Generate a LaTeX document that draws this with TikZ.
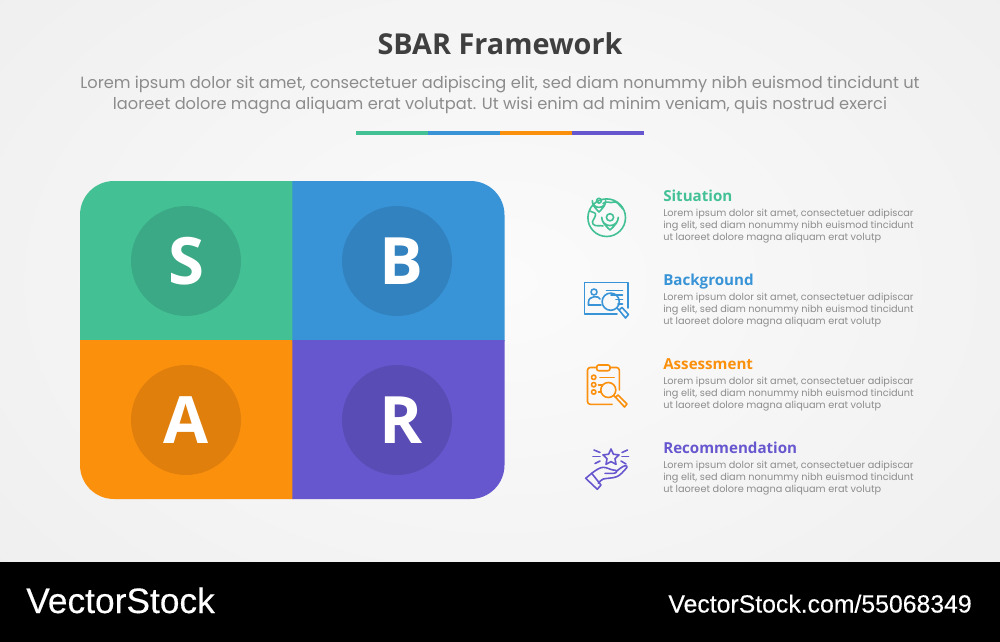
\documentclass[tikz,border=0pt]{standalone}
\usepackage{fontspec}
\setmainfont{Open Sans}
\newfontfamily\popfont{Poppins}
\newfontfamily\brandfont[FakeBold=0.3]{Liberation Sans}
\newcommand{\pxfont}[2]{\fontsize{#1}{#2}\selectfont}
\definecolor{cgreen}{HTML}{43C195}
\definecolor{cblue}{HTML}{3894D7}
\definecolor{corange}{HTML}{FB900D}
\definecolor{cpurple}{HTML}{6757CF}
\definecolor{dgreen}{HTML}{3BA985}
\definecolor{dblue}{HTML}{3182BE}
\definecolor{dorange}{HTML}{E07F0B}
\definecolor{dpurple}{HTML}{5A4CB5}
\definecolor{ctitle}{HTML}{3F3F3F}
\definecolor{cbody}{HTML}{8C8C8C}
\definecolor{cbg}{HTML}{FAFAFA}
\tikzset{
  lettercirc/.style={circle,minimum size=82.5pt,inner sep=0pt,text=white,font=\bfseries\pxfont{49}{49}},
  headlabel/.style={anchor=base west,inner sep=0pt,font=\bfseries\pxfont{11.35}{13}},
  bodytext/.style={anchor=base west,inner sep=0pt,align=left,text=cbody,font=\popfont\pxfont{7.3}{9.1}},
  subtext/.style={anchor=base,inner sep=0pt,text=cbody,font=\popfont\pxfont{12.18}{15}},
  iconline/.style={line width=1.2pt,line cap=round,line join=round},
}
\begin{document}
\begin{tikzpicture}[x=0.75pt,y=-0.75pt]
\useasboundingbox (0,0) rectangle (1000,642);
% background
\begin{scope}
\clip (0,0) rectangle (1000,562);
\shade[inner color=black!1.5,outer color=black!6.5] (-200,-200) rectangle (1200,762);
\end{scope}
\fill[black] (0,562) rectangle (1000,642);
% heading
\node[anchor=base,inner sep=0pt,text=ctitle,font=\bfseries\pxfont{21.6}{26}] (title) at (500,55) {SBAR Framework};
\node[subtext] (sub1) at (500,89) {Lorem ipsum dolor sit amet, consectetuer adipiscing elit, sed diam nonummy nibh euismod tincidunt ut};
\node[subtext] (sub2) at (500,109) {laoreet dolore magna aliquam erat volutpat. Ut wisi enim ad minim veniam, quis nostrud exerci};
% divider
\fill[cgreen] (356,131) rectangle (428,135);
\fill[cblue] (428,131) rectangle (500,135);
\fill[corange] (500,131) rectangle (572,135);
\fill[cpurple] (572,131) rectangle (644,135);
% block
\fill[cgreen] (293.5,341) -- (80,341) -- (80,215) .. controls (80,196.2) and (95.2,181) .. (114,181) -- (293.5,181) -- cycle;
\fill[corange] (293.5,340) -- (80,340) -- (80,465) .. controls (80,483.8) and (95.2,499) .. (114,499) -- (293.5,499) -- cycle;
\fill[cblue] (292.25,341) -- (292.25,181) -- (470.5,181) .. controls (489.3,181) and (504.5,196.2) .. (504.5,215) -- (504.5,341) -- cycle;
\fill[cpurple] (292.25,340) -- (292.25,499) -- (470.5,499) .. controls (489.3,499) and (504.5,483.8) .. (504.5,465) -- (504.5,340) -- cycle;
\node[lettercirc,fill=dgreen] (s) at (186,261) {S};
\node[lettercirc,fill=dblue] (b) at (397,261) {\hspace*{6pt}B};
\node[lettercirc,fill=dorange] (a) at (186,420) {A};
\node[lettercirc,fill=dpurple] (r) at (397,420) {\hspace*{6pt}R};
% labels
\node[headlabel,text=cgreen] (h1) at (663,201) {Situation};
\node[bodytext] (t1) at (663,240.6) {Lorem ipsum dolor sit amet, consectetuer adipiscar\\ing elit, sed diam nonummy nibh euismod tincidunt\\ut laoreet dolore magna aliquam erat volutp};
\node[headlabel,text=cblue] (h2) at (663,285) {Background};
\node[bodytext] (t2) at (663,324.6) {Lorem ipsum dolor sit amet, consectetuer adipiscar\\ing elit, sed diam nonummy nibh euismod tincidunt\\ut laoreet dolore magna aliquam erat volutp};
\node[headlabel,text=corange] (h3) at (663,369) {Assessment};
\node[bodytext] (t3) at (663,408.6) {Lorem ipsum dolor sit amet, consectetuer adipiscar\\ing elit, sed diam nonummy nibh euismod tincidunt\\ut laoreet dolore magna aliquam erat volutp};
\node[headlabel,text=cpurple] (h4) at (663,453) {Recommendation};
\node[bodytext] (t4) at (663,492.6) {Lorem ipsum dolor sit amet, consectetuer adipiscar\\ing elit, sed diam nonummy nibh euismod tincidunt\\ut laoreet dolore magna aliquam erat volutp};
% icon: situation
\begin{scope}[iconline,draw=cgreen]
\draw (606.7,217.7) circle[radius=18.8];
\draw (603,203.5) .. controls (607,200) and (610,204) .. (614,202) .. controls (617,201) and (619,205) .. (623,209);
\draw (590,211) .. controls (593,213) and (596,212) .. (595.5,215) .. controls (595,219) and (591,221) .. (593,224) .. controls (595,227) and (600,225) .. (603,226);
\draw[fill=cbg] (599,212) .. controls (594,207) and (592.3,204.5) .. (592.3,200.7) arc[start angle=180,end angle=0,radius=6.7] .. controls (605.7,204.5) and (604,207) .. (599,212) -- cycle;
\draw (599,200.7) circle[radius=2.4];
\draw[fill=cbg] (610,230) .. controls (604.5,225) and (601.7,221.5) .. (601.7,217.3) arc[start angle=180,end angle=0,radius=8.3] .. controls (618.3,221.5) and (615.5,225) .. (610,230) -- cycle;
\draw (610,217.3) circle[radius=3.6];
\end{scope}
% icon: background
\begin{scope}[iconline,draw=cblue]
\draw (617,314) -- (584.5,314) -- (584.5,282.5) -- (628,282.5) -- (628,308);
\draw (594,292) circle[radius=3];
\draw (588.5,305) -- (588.5,302) .. controls (588.5,295.5) and (599.5,295.5) .. (600,299);
\draw (588.5,305) -- (601,305);
\draw (606.5,290.5) -- (622.5,290.5);
\draw (611,295) -- (622.5,295);
\draw (616,299.5) -- (622.5,299.5);
\draw (618,304) -- (622.5,304);
\draw (610.7,301.7) circle[radius=8.6];
\draw (616.8,307.8) -- (619,310);
\draw (619,310) -- (622,307.5) -- (628.5,314.5) -- (625.5,318) -- cycle;
\end{scope}
% icon: assessment
\begin{scope}[iconline,draw=corange]
\draw (612,404.3) -- (590,404.3) [rounded corners=2pt] -- (587.5,404.3) -- (587.5,367.5) -- (596.5,367.5);
\draw[rounded corners=2pt] (610,367.5) -- (619.3,367.5) -- (619.3,390);
\draw[rounded corners=1.5pt] (596.7,365) rectangle (610,370.7);
\draw (593.7,377.3) circle[radius=2.2];
\draw (593.7,384.7) circle[radius=2.2];
\draw (593.7,392) circle[radius=2.2];
\draw (600,377.3) -- (614.3,377.3);
\draw (598.5,384.7) -- (602,384.7);
\draw (598.5,392) -- (601,392);
\draw (608.3,390) circle[radius=7.5];
\draw (613.7,395.4) -- (615.5,397.2);
\draw (615.5,397.2) -- (618,395) -- (627,404) -- (624.5,407) -- cycle;
\end{scope}
% icon: recommendation
\begin{scope}[iconline,draw=cpurple]
\draw (611,449) -- (613.4,454.2) -- (619,454.9) -- (615,458.7) -- (616,464.3) -- (611,461.6) -- (606,464.3) -- (607,458.7) -- (603,454.9) -- (608.6,454.2) -- cycle;
\draw (594,450) -- (600,452.5);
\draw (593,456.5) -- (600,456.5);
\draw (595,463.5) -- (600,461);
\draw (622,452.5) -- (627.5,450);
\draw (622,456.5) -- (628.5,456.5);
\draw (621,461) -- (626,464);
\draw (585.7,478.3) -- (591.7,473.3) -- (601,485) -- (597.3,489.3) -- cycle;
\draw (591.7,473.3) .. controls (596,470) and (600,467.3) .. (603.3,467.3) .. controls (607,467.3) and (611,470) .. (613.3,470) .. controls (615,470) and (616,470.5) .. (616.7,471);
\draw (605,473.3) -- (614,473.3) .. controls (616,473.3) and (616.7,472) .. (616.7,471) .. controls (619,469.5) and (622,466.5) .. (625,465.7) .. controls (627,465.5) and (627.5,466.5) .. (626.7,467.7) .. controls (623,472) and (620,475.5) .. (616.7,476.7) .. controls (612,478.5) and (607,478) .. (603.3,479) .. controls (601,479.7) and (600,481.5) .. (598.3,483.3);
\end{scope}
% strip
\node[anchor=base west,inner sep=0pt,text=white,font=\brandfont\pxfont{26.5}{30}] (brand) at (26,613) {VectorStock};
\node[anchor=base east,inner sep=0pt,text=white,font=\brandfont\pxfont{18.6}{20}] (ref) at (972,612.5) {VectorStock.com/55068349};
\end{tikzpicture}
\end{document}
